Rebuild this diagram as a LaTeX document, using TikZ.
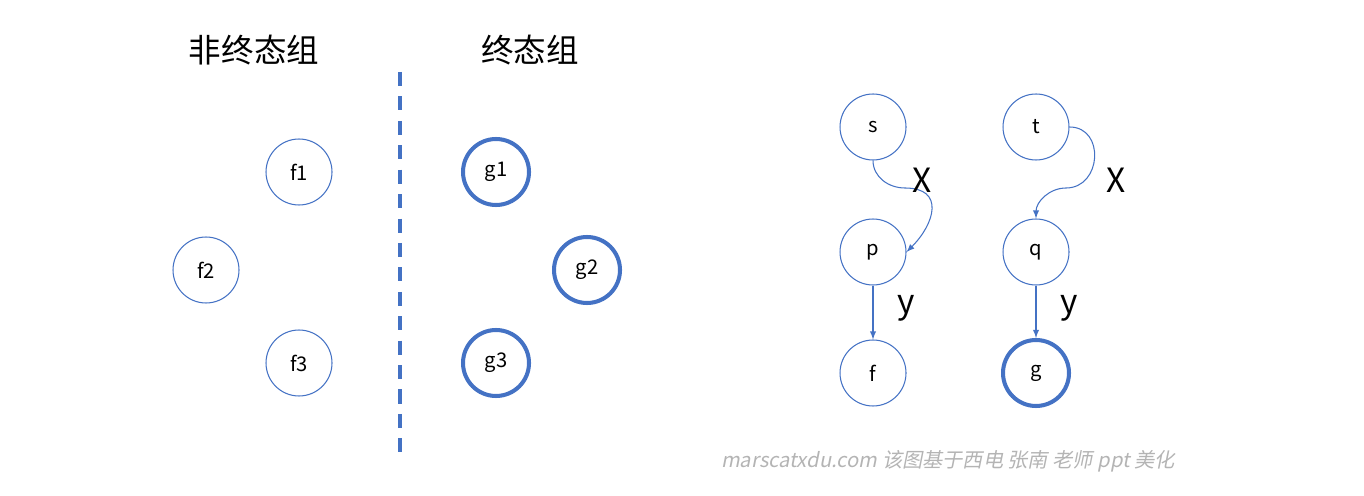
\documentclass[tikz,border=0pt]{standalone}
\usepackage{fontspec}
\setmainfont{Noto Sans CJK SC}
\newfontfamily\markfont[FakeSlant=0.2]{Noto Sans CJK SC}
\definecolor{stateblue}{HTML}{4472C4}
\definecolor{markgray}{HTML}{B4B4B4}

\tikzset{
    state/.style={circle,draw=stateblue,line width=0.6pt,minimum size=1.32cm,inner sep=0pt,font=\fontsize{11.5}{12}\selectfont},
    final/.style={state,line width=2.3pt},
    trans/.style={->,draw=stateblue,line width=0.6pt},
    edgelabel/.style={font=\fontsize{19}{20}\selectfont},
}

\begin{document}
\begin{tikzpicture}[x=0.02cm,y=-0.02cm,>=latex]
    % fix the page size
    \useasboundingbox (0,0) rectangle (1364,496);

    % draw the two group titles
    \node[font=\fontsize{18.5}{20}\selectfont] (nonfinal) at (254,50) {非终态组};
    \node[font=\fontsize{18.5}{20}\selectfont] (finals) at (530,50) {终态组};

    % draw the dividing line
    \coordinate (divtop) at (400,72);
    \coordinate (divbot) at (400,460);
    \draw[stateblue,line width=2.3pt,dash pattern=on 8pt off 5.9pt] (divtop) -- (divbot);

    % draw the states of both groups
    \foreach \name/\x/\y in {f1/299/172, f2/206/270, f3/299/363}
        \node[state] (\name) at (\x,\y) {\name};
    \foreach \name/\x/\y in {g1/496/172, g2/587/270, g3/496/363}
        \node[final] (\name) at (\x,\y) {\name};

    % draw the two chains on the right
    \node[state] (s) at (873,127) {s};
    \node[state] (p) at (873,252) {p};
    \node[state] (f) at (873,373) {f};
    \node[state] (t) at (1036,127) {t};
    \node[state] (q) at (1036,252) {q};
    \node[final] (g) at (1036,373) {g};

    % the bends of the x transitions
    \coordinate (sbend) at (905,188);
    \coordinate (tbend) at (1066,188);

    \draw[trans] (s.south) to[out=-90,in=180] (sbend) to[out=0,in=45,looseness=1.6] (p.east);
    \draw[trans] (t.east) to[out=0,in=0,looseness=1.5] (tbend) to[out=180,in=90] (q.north);
    \draw[trans] (p) -- (f);
    \draw[trans] (q) -- (g);

    % draw the transition labels
    \node[edgelabel] (xs) at (922,180) {X};
    \node[edgelabel] (xt) at (1116,180) {X};
    \node[edgelabel] (yp) at (906,308) {y};
    \node[edgelabel] (yq) at (1069,308) {y};

    % the watermark
    \node[text=markgray,font=\markfont\fontsize{11.5}{12}\selectfont] (mark) at (948,461) {marscatxdu.com 该图基于西电 张南 老师 ppt 美化};
\end{tikzpicture}
\end{document}
